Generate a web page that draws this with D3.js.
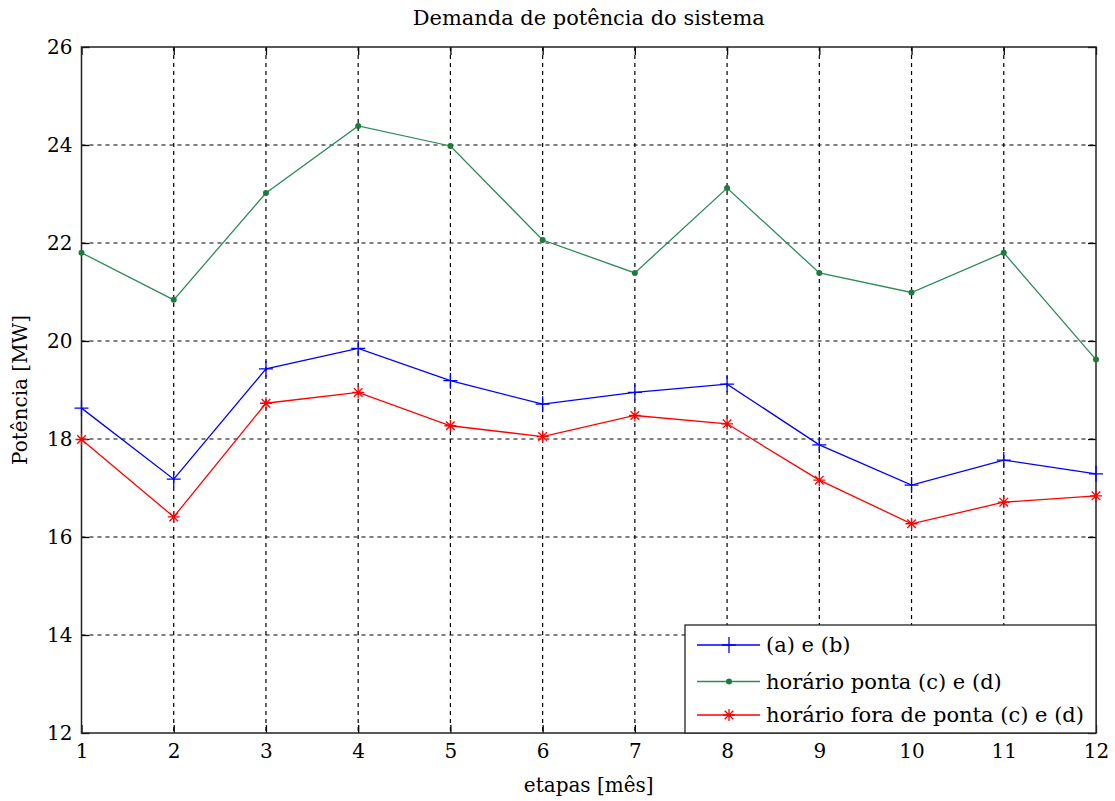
<!DOCTYPE html>
<html><head><meta charset="utf-8">
<script src="https://cdn.jsdelivr.net/npm/d3@7"></script>
<style>body{margin:0;background:#fff}svg{display:block}text{font-family:"DejaVu Serif",serif;fill:#000}</style>
</head><body>
<script>
const etapas = [1,2,3,4,5,6,7,8,9,10,11,12];
const serieAB = [18.63,17.18,19.43,19.85,19.19,18.71,18.95,19.12,17.88,17.06,17.57,17.29];
const seriePonta = [21.80,20.84,23.02,24.39,23.98,22.06,21.39,23.12,21.39,20.99,21.80,19.62];
const serieForaPonta = [17.99,16.41,18.73,18.95,18.27,18.05,18.48,18.31,17.16,16.27,16.71,16.84];
const yTicks = [12,14,16,18,20,22,24,26];
const seriesNames = ["(a) e (b)","horário ponta (c) e (d)","horário fora de ponta (c) e (d)"];

const W=1115,H=801;
const m={l:81.5,r:1096,t:47,b:733};
const FS="20px";
const svg=d3.select("body").append("svg").attr("width",W).attr("height",H);
const x=d3.scaleLinear().domain([1,12]).range([m.l,m.r]);
const y=d3.scaleLinear().domain([12,26]).range([m.b,m.t]);

// grid
const g=svg.append("g");
g.selectAll(".vg").data(etapas.slice(1,-1)).enter().append("line")
 .attr("x1",d=>x(d)).attr("x2",d=>x(d)).attr("y1",m.t).attr("y2",m.b)
 .attr("stroke","#000").attr("stroke-dasharray","4,4").attr("stroke-width",1.2);
g.selectAll(".hg").data(yTicks.slice(1,-1)).enter().append("line")
 .attr("y1",d=>y(d)).attr("y2",d=>y(d)).attr("x1",m.l).attr("x2",m.r)
 .attr("stroke","#000").attr("stroke-dasharray","4,4").attr("stroke-width",1.2);

// axes
const xb=d3.axisBottom(x).tickValues(etapas).tickSize(-8).tickPadding(11).tickFormat(d3.format("d"));
const xt=d3.axisTop(x).tickValues(etapas).tickSize(-8).tickFormat("");
const yl=d3.axisLeft(y).tickValues(yTicks).tickSize(-8).tickPadding(9).tickFormat(d3.format("d"));
const yr=d3.axisRight(y).tickValues(yTicks).tickSize(-8).tickFormat("");
function style(sel){sel.select(".domain").remove();sel.selectAll("line").attr("stroke","#000").attr("stroke-width",1.3);sel.selectAll("text").style("font-size",FS).attr("font-family","DejaVu Serif");}
svg.append("g").attr("transform",`translate(0,${m.b})`).call(xb).call(style);
svg.append("g").attr("transform",`translate(0,${m.t})`).call(xt).call(style);
svg.append("g").attr("transform",`translate(${m.l},0)`).call(yl).call(style);
svg.append("g").attr("transform",`translate(${m.r},0)`).call(yr).call(style);
svg.append("rect").attr("x",m.l).attr("y",m.t).attr("width",m.r-m.l).attr("height",m.b-m.t)
 .attr("fill","none").attr("stroke","#222").attr("stroke-width",1.5);

// lines
const colors=["#0000ff","#2e8b57","#ff0000"];
const data=[serieAB,seriePonta,serieForaPonta];
const line=d3.line().x((d,i)=>x(etapas[i])).y(d=>y(d));
function marker(sel,k){
  if(k===0){
    sel.append("path").attr("d","M-7,0H7M0,-8V8").attr("stroke",colors[0]).attr("stroke-width",1.3).attr("fill","none");
  }else if(k===1){
    sel.append("circle").attr("r",3).attr("fill","#1f7a3e");
  }else{
    const s=6,dd=4.3;
    sel.append("path").attr("d",`M${-s},0H${s}M0,${-s}V${s}M${-dd},${-dd}L${dd},${dd}M${-dd},${dd}L${dd},${-dd}`).attr("stroke",colors[2]).attr("stroke-width",1.3).attr("fill","none");
  }
}
data.forEach((arr,k)=>{
  svg.append("path").datum(arr).attr("d",line).attr("fill","none").attr("stroke",colors[k]).attr("stroke-width",1.3);
  svg.selectAll(".m"+k).data(arr).enter().append("g").attr("class","m"+k)
   .attr("transform",(d,i)=>`translate(${x(etapas[i])},${y(d)})`).each(function(){marker(d3.select(this),k);});
});

// legend
const lg=svg.append("g");
lg.append("rect").attr("x",685).attr("y",625).attr("width",411).attr("height",108).attr("fill","#fff").attr("stroke","#222").attr("stroke-width",1.3);
const rows=[645,681.5,715];
seriesNames.forEach((n,k)=>{
  lg.append("line").attr("x1",697).attr("x2",760).attr("y1",rows[k]).attr("y2",rows[k]).attr("stroke",colors[k]).attr("stroke-width",1.3);
  marker(lg.append("g").attr("transform",`translate(729,${rows[k]})`),k);
  lg.append("text").attr("x",766).attr("y",rows[k]).attr("dy","0.35em").style("font-size","21px").text(n);
});

// titles
svg.append("text").attr("x",(m.l+m.r)/2).attr("y",25).attr("text-anchor","middle").style("font-size","20px")
 .attr("textLength",352).attr("lengthAdjust","spacingAndGlyphs").text("Demanda de potência do sistema");
svg.append("text").attr("x",(m.l+m.r)/2).attr("y",792).attr("text-anchor","middle").style("font-size",FS).text("etapas [mês]");
svg.append("text").attr("transform",`translate(27,${(m.t+m.b)/2}) rotate(-90)`).attr("text-anchor","middle").style("font-size",FS).text("Potência [MW]");
</script>
</body></html>
